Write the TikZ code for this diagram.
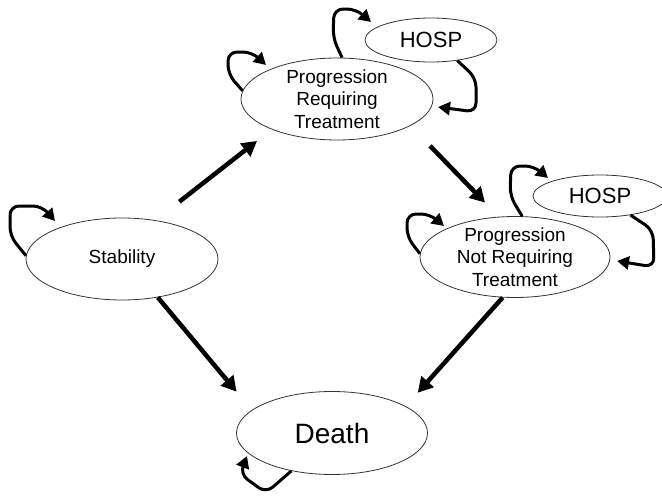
\documentclass[tikz,border=0pt]{standalone}
\usepackage{fontspec}
\setmainfont{Liberation Sans}
\usetikzlibrary{shapes.geometric,arrows.meta}
\begin{document}
\begin{tikzpicture}[x=1pt,y=1pt,
  state/.style={ellipse,draw=black!80,line width=0.8pt,inner sep=0pt,align=center},
  labeltext/.style={align=center,inner sep=0pt,font=\fontsize{19}{22.7}\selectfont},
  flow/.style={line width=4.5pt,-{Triangle[length=15pt,width=16pt]}},
  loopline/.style={line width=3pt,rounded corners=9pt,-{Triangle[length=12pt,width=13pt]}}]
\useasboundingbox (0,0) rectangle (662,-498);

% states
\node[state,minimum width=192pt,minimum height=82pt,font=\fontsize{19}{22.7}\selectfont] (stab) at (122,-259) {Stability};
\node[state,minimum width=192pt,minimum height=82pt] (prt) at (337,-99) {};
\node[labeltext] (prttext) at (prt.center) {Progression\\Requiring\\Treatment};
\node[state,minimum width=132pt,minimum height=44pt,font=\fontsize{22}{26}\selectfont] (hosp1) at (431,-40) {HOSP};
\node[state,minimum width=190pt,minimum height=81pt] (pnrt) at (515,-257) {};
\node[labeltext] (pnrttext) at (pnrt.center) {Progression\\Not Requiring\\Treatment};
\node[state,minimum width=134pt,minimum height=42pt,font=\fontsize{22}{26}\selectfont] (hosp2) at (600,-196) {HOSP};
\node[state,minimum width=191pt,minimum height=83pt,font=\fontsize{28}{32}\selectfont] (death) at (332,-433) {Death};

% transitions between states
\draw[flow,shorten <=30pt,shorten >=18.6pt] (stab.49) -- (prt.205);
\draw[flow,shorten <=28pt,shorten >=19.6pt] (prt.-20) -- (pnrt.112.5);
\draw[flow,shorten >=23.8pt] (stab.-47) -- (death.164);
\draw[flow,shorten >=18pt] (pnrt.253) -- (death.20);

% self loops and hospital stays
\draw[loopline] (stab.178) -- (10,-236) -- (10,-206) -- (42,-206) -- (55,-221);
\draw[loopline] (prt.175) -- (228,-74) -- (228,-52) -- (252,-52) -- (266,-65);
\draw[loopline] (prt.83) -- (333,-38) -- (334,-9) -- (356,-9) -- (371,-22);
\draw[loopline] (hosp1.-38) -- (476,-78) -- (476,-112) -- (438,-107);
\draw[loopline] (pnrt.178) -- (407,-237) -- (407,-214) -- (430,-214) -- (444,-226);
\draw[loopline] (pnrt.80) -- (510,-196) -- (511,-166) -- (534,-166) -- (548,-178);
\draw[loopline] (hosp2.-32) -- (653,-230) -- (654,-267) -- (617,-261);
\draw[loopline] (death.-137) -- (266,-493) -- (240,-474) -- (247,-456);
\end{tikzpicture}
\end{document}
